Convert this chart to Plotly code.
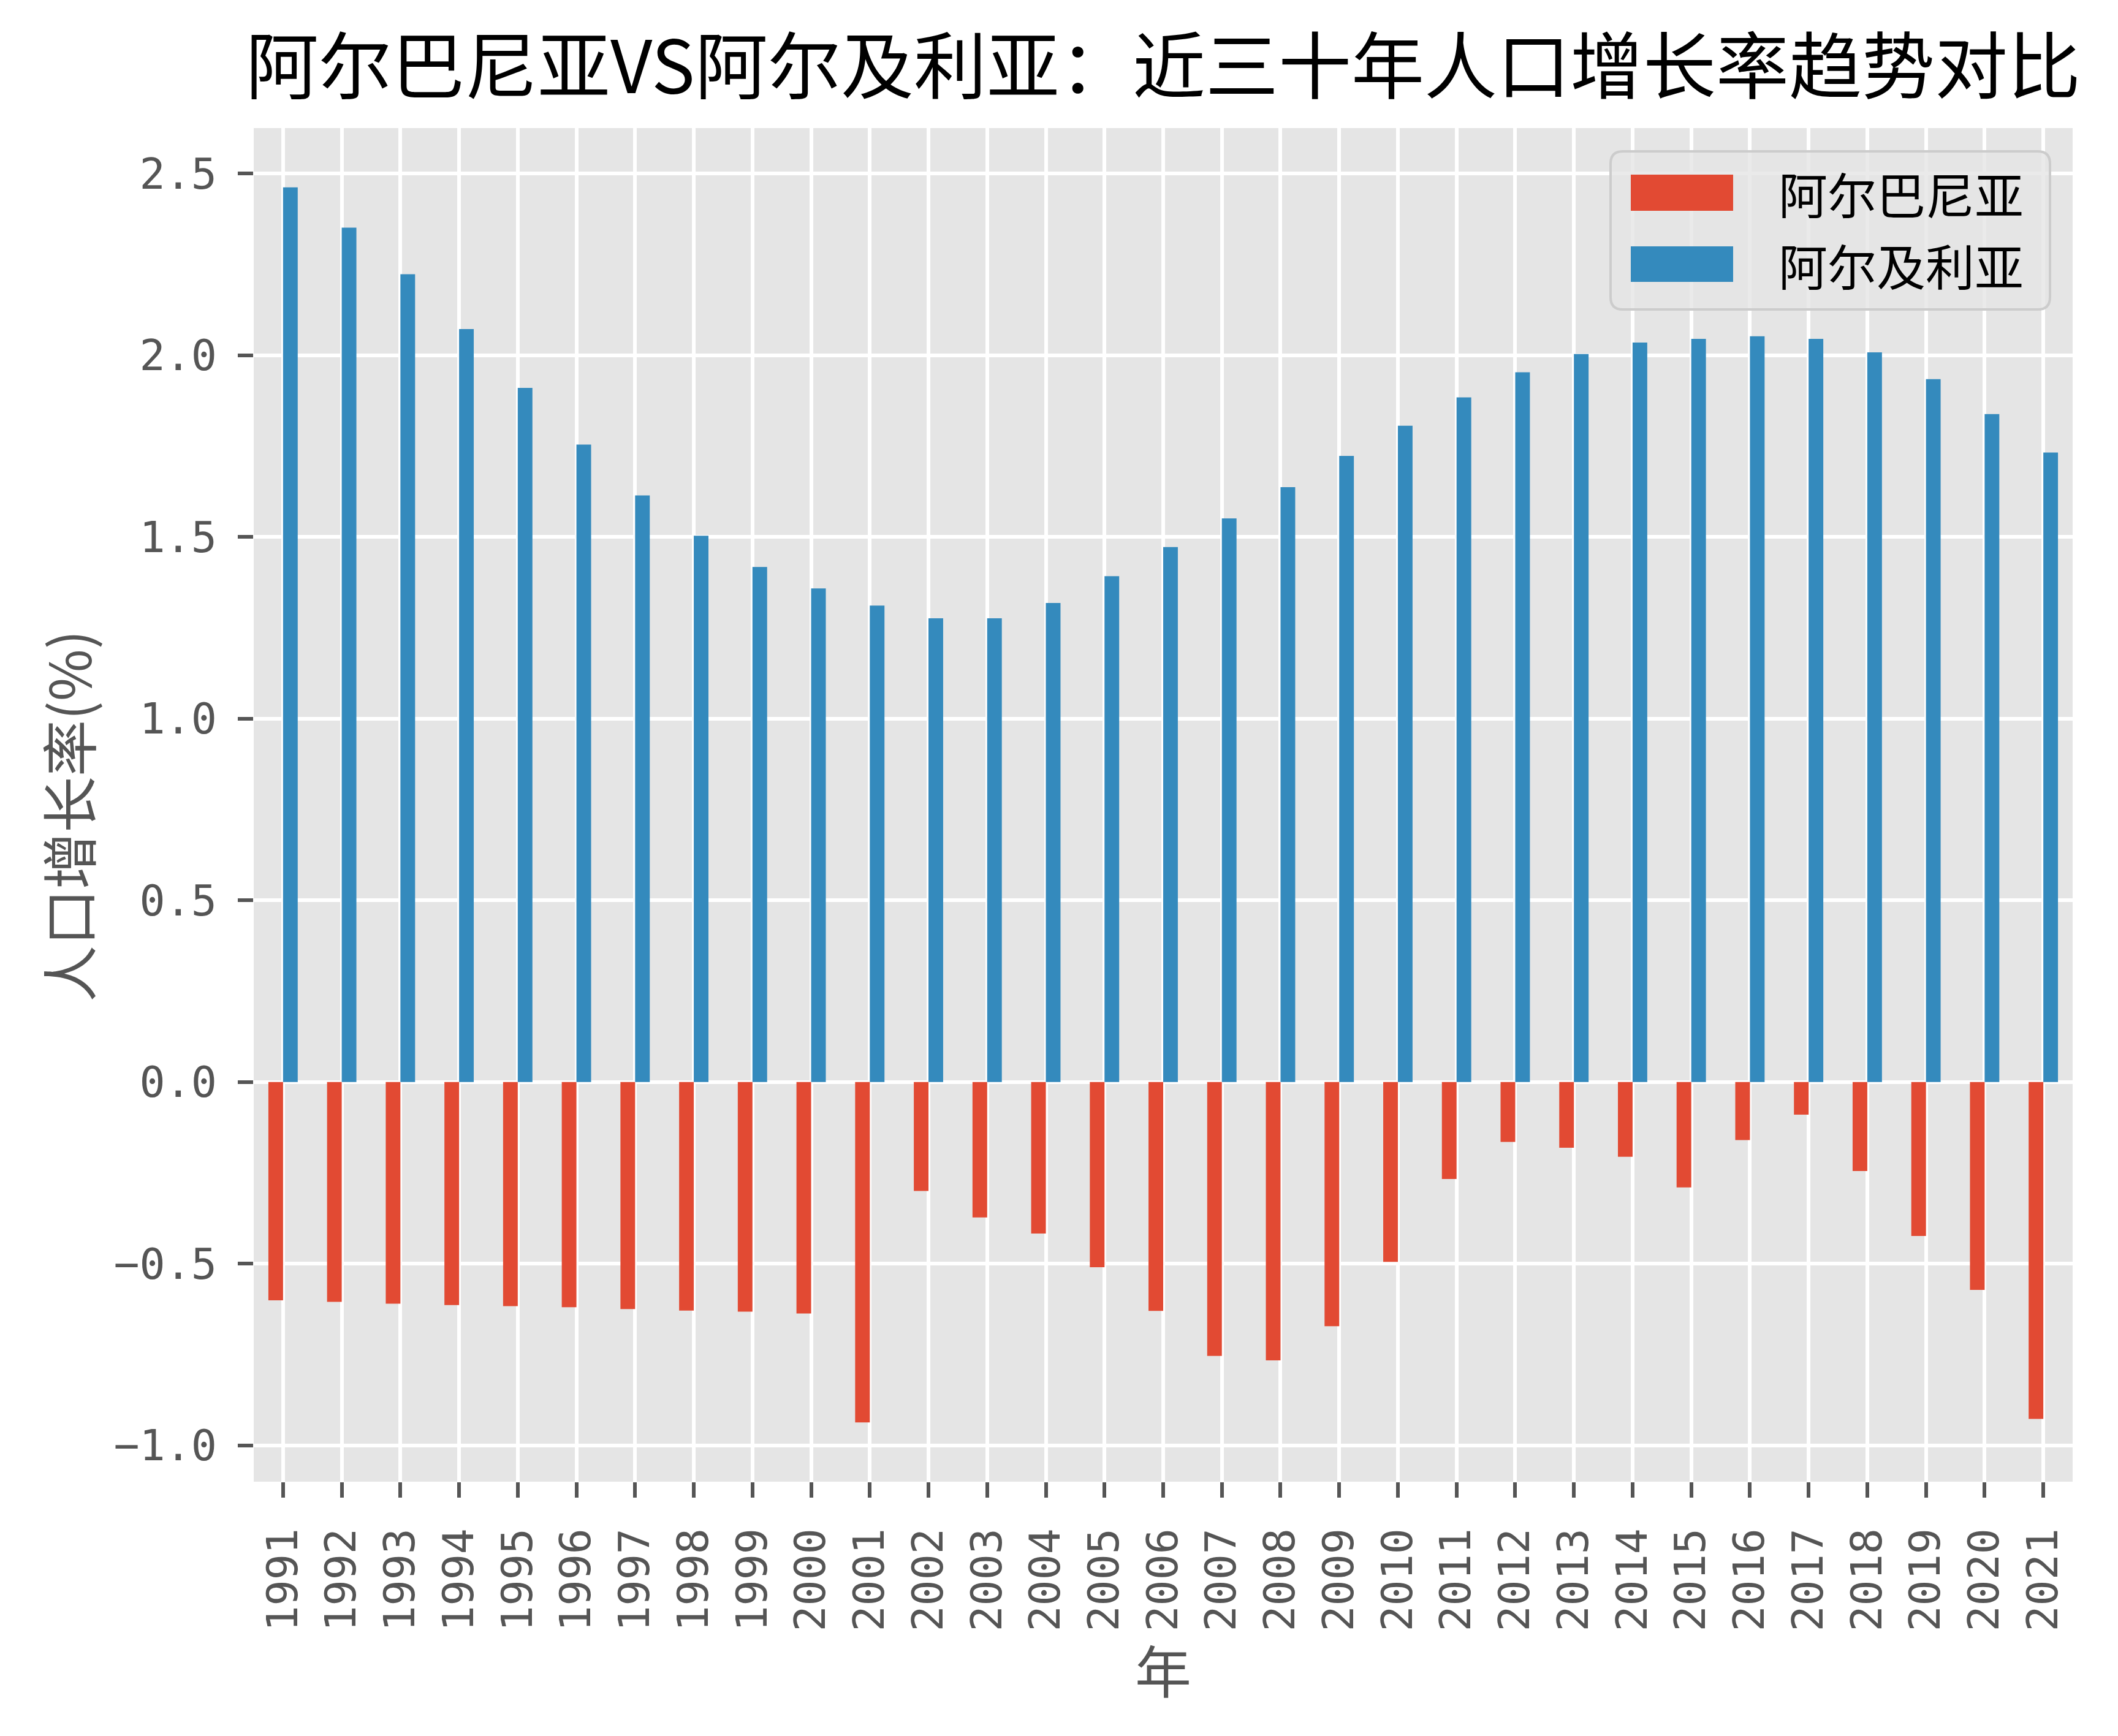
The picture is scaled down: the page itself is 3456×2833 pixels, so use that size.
import plotly.graph_objects as go

years = [str(y) for y in range(1991, 2022)]
albania = [-0.601, -0.605, -0.610, -0.614, -0.617, -0.620, -0.625, -0.629, -0.632, -0.637,
           -0.937, -0.300, -0.373, -0.417, -0.510, -0.630, -0.754, -0.766, -0.672, -0.495,
           -0.267, -0.165, -0.181, -0.206, -0.290, -0.160, -0.090, -0.245, -0.424, -0.572, -0.927]
algeria = [2.462, 2.351, 2.223, 2.072, 1.910, 1.754, 1.614, 1.503, 1.417, 1.358,
           1.311, 1.276, 1.276, 1.318, 1.392, 1.472, 1.551, 1.637, 1.723, 1.806,
           1.884, 1.953, 2.003, 2.035, 2.045, 2.052, 2.045, 2.008, 1.934, 1.838, 1.732]
series_names = ["阿尔巴尼亚", "阿尔及利亚"]
colors = ["#E24A33", "#348ABD"]
title = "阿尔巴尼亚VS阿尔及利亚：近三十年人口增长率趋势对比"
ytitle = "人口增长率(%)"
xtitle = "年"
yticks = [-1.0, -0.5, 0.0, 0.5, 1.0, 1.5, 2.0, 2.5]

W, H = 3456, 2833
OFF = 8  # default page body margin
L, R, T, B = 414, 3382, 209, 2418   # plot area in page pixels
FONT = "Noto Sans CJK SC"
TICKFONT = "DejaVu Sans Mono"

fig = go.Figure()
for name, vals, c in zip(series_names, [albania, algeria], colors):
    fig.add_trace(go.Bar(x=years, y=vals, name=name, marker=dict(color=c, line=dict(width=0)),
                         showlegend=False))

FW, FH = W - 2 * OFF, H - 2 * OFF
fig.update_layout(
    width=FW, height=FH,
    margin=dict(l=L - OFF, r=FW - (R - OFF), t=T - OFF, b=FH - (B - OFF), autoexpand=False),
    paper_bgcolor="white", plot_bgcolor="#E5E5E5",
    barmode="group", bargap=0.5, bargroupgap=0,
    font=dict(family=FONT, color="#555555", size=78),
    title=dict(text=title, x=0.5, xref="paper", xanchor="center",
               y=1 - (110 - OFF) / FH, yref="container", yanchor="middle",
               font=dict(family=FONT, size=119, color="black")),
)
fig.update_xaxes(
    type="category", range=[-0.5, 30.5], showgrid=True, gridcolor="white", gridwidth=6,
    ticks="outside", ticklen=25, tickwidth=6, tickcolor="#555555", tickangle=-90,
    tickfont=dict(family=TICKFONT, size=70, color="#555555"), showline=False, zeroline=False,
    ticklabelstandoff=22, automargin=False,
)
fig.update_yaxes(
    range=[-1.10, 2.625], tickvals=yticks,
    ticktext=[f"{v:.1f}".replace("-", "\u2212") for v in yticks],
    showgrid=True, gridcolor="white", gridwidth=6, zeroline=False,
    ticks="outside", ticklen=25, tickwidth=6, tickcolor="#555555",
    tickfont=dict(family=TICKFONT, size=70, color="#555555"), showline=False,
    ticklabelstandoff=20, automargin=False,
)

def px(xp):
    return (xp - L) / (R - L)

def py(yp):
    return (B - yp) / (B - T)

# axis titles
fig.add_annotation(text=ytitle, xref="paper", yref="paper", x=px(108), y=py(1332),
                   textangle=-90, showarrow=False, xanchor="center", yanchor="middle",
                   font=dict(family=FONT, size=92, color="#555555"))
fig.add_annotation(text=xtitle, xref="paper", yref="paper", x=px(1898), y=py(2722),
                   showarrow=False, xanchor="center", yanchor="middle",
                   font=dict(family=FONT, size=92, color="#555555"))

# custom legend (matplotlib-like)
bx0, bx1, by0, by1 = 2628, 3345, 247, 505
r = 20
rx, ry = r / (R - L), r / (B - T)
X0, X1, Y0, Y1 = px(bx0), px(bx1), py(by1), py(by0)
path = (f"M{X0+rx},{Y1} L{X1-rx},{Y1} Q{X1},{Y1} {X1},{Y1-ry} L{X1},{Y0+ry} "
        f"Q{X1},{Y0} {X1-rx},{Y0} L{X0+rx},{Y0} Q{X0},{Y0} {X0},{Y0+ry} "
        f"L{X0},{Y1-ry} Q{X0},{Y1} {X0+rx},{Y1} Z")
fig.add_shape(type="path", path=path, xref="paper", yref="paper",
              fillcolor="rgba(229,229,229,0.8)", line=dict(color="#CCCCCC", width=4), layer="above")
rows = [(285, 344), (402, 460)]
for (ya, yb), name, c in zip(rows, series_names, colors):
    fig.add_shape(type="rect", xref="paper", yref="paper", x0=px(2661), x1=px(2828),
                  y0=py(yb), y1=py(ya), fillcolor=c, line=dict(width=0), layer="above")
    fig.add_annotation(text=name, xref="paper", yref="paper", x=px(2900), y=py((ya + yb) / 2),
                       xanchor="left", yanchor="middle", showarrow=False,
                       font=dict(family=FONT, size=80, color="black"))

fig.write_html("out.html")
